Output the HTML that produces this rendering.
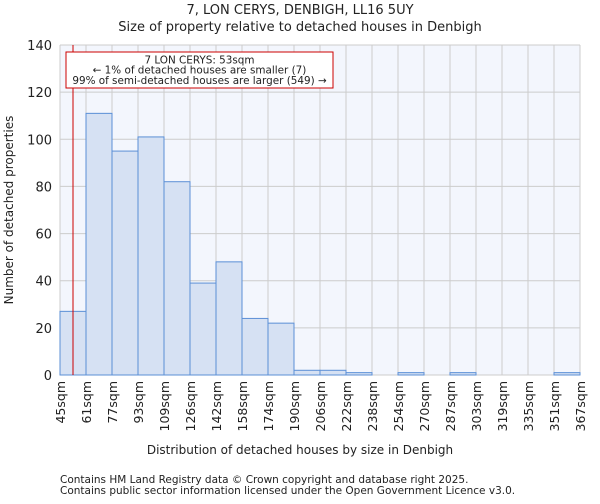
<!DOCTYPE html>
<html><head><meta charset="utf-8"><style>
body{margin:0;background:#fff;font-family:"DejaVu Sans","Liberation Sans",sans-serif;}
text{font-family:"DejaVu Sans","Liberation Sans",sans-serif;fill:#222;}
</style></head><body>
<svg id="c" width="600" height="500" xmlns="http://www.w3.org/2000/svg">
<text x="300" y="14" text-anchor="middle" font-size="13">7, LON CERYS, DENBIGH, LL16 5UY</text>
<text x="300" y="31" text-anchor="middle" font-size="13">Size of property relative to detached houses in Denbigh</text>
<rect x="60" y="45" width="520" height="330" fill="#f3f6fd"/>
<g id="grid"></g><g id="bars"></g><g id="axes"></g>
<text x="300" y="454" text-anchor="middle" font-size="12">Distribution of detached houses by size in Denbigh</text>
<text transform="translate(13,210) rotate(-90)" text-anchor="middle" font-size="12">Number of detached properties</text>
<text x="60" y="483" font-size="10.5" fill="#555">Contains HM Land Registry data © Crown copyright and database right 2025.</text>
<text x="60" y="494" font-size="10.5" fill="#555">Contains public sector information licensed under the Open Government Licence v3.0.</text>
</svg>
<script>
const categories=["45sqm","61sqm","77sqm","93sqm","109sqm","126sqm","142sqm","158sqm","174sqm","190sqm","206sqm","222sqm","238sqm","254sqm","270sqm","287sqm","303sqm","319sqm","335sqm","351sqm","367sqm"];
const counts=[27,111,95,101,82,39,48,24,22,2,2,1,0,1,0,1,0,0,0,1];
const yTicks=[0,20,40,60,80,100,120,140];
const markerValue=53;
const NS="http://www.w3.org/2000/svg";
const x0=60,x1=580,y0=375,y1=45,yMax=140,minV=45,binW=16;
const nb=counts.length;
const xs=i=>x0+i*(x1-x0)/nb;
const xv=v=>x0+(v-minV)/binW*(x1-x0)/nb;
const ys=v=>y0-v/yMax*(y0-y1);
function mk(t,a,p){const e=document.createElementNS(NS,t);for(const k in a)e.setAttribute(k,a[k]);p.appendChild(e);return e;}
const grid=document.getElementById('grid'),bars=document.getElementById('bars'),axes=document.getElementById('axes');
for(let i=0;i<=nb;i++){const l=mk('line',{x1:xs(i),x2:xs(i),y1:y1,y2:y0,stroke:'#cccccc','stroke-width':1},grid);

}
yTicks.forEach(v=>{const l=mk('line',{x1:x0,x2:x1,y1:ys(v),y2:ys(v),stroke:'#cccccc','stroke-width':1},grid);


const t=mk('text',{x:x0-8,y:ys(v)+5,'text-anchor':'end','font-size':13},axes);t.textContent=v;

});
counts.forEach((c,i)=>{if(c<=0)return;const r=mk('rect',{x:xs(i),y:ys(c),width:xs(i+1)-xs(i),height:y0-ys(c),fill:'#d6e1f3',stroke:'#5b8fd6','stroke-width':1},bars);

});
categories.forEach((c,i)=>{const x=xs(i);const t=mk('text',{transform:`translate(${x+5},381) rotate(-90)`,'text-anchor':'end','font-size':12.5},axes);t.textContent=c;

});
const mx=xv(markerValue);
const ml=mk('line',{x1:mx,x2:mx,y1:y1,y2:y0,stroke:'#cc0000','stroke-width':1},axes);


const box=mk('rect',{x:66,y:52,width:267,height:36,fill:'#fff',stroke:'#cc0000','stroke-width':1},axes);


["7 LON CERYS: 53sqm","← 1% of detached houses are smaller (7)","99% of semi-detached houses are larger (549) →"].forEach((s,i)=>{const t=mk('text',{x:199.5,y:63.5+i*10.2,'text-anchor':'middle','font-size':10.4},axes);t.textContent=s;

});
</script>
</body></html>
